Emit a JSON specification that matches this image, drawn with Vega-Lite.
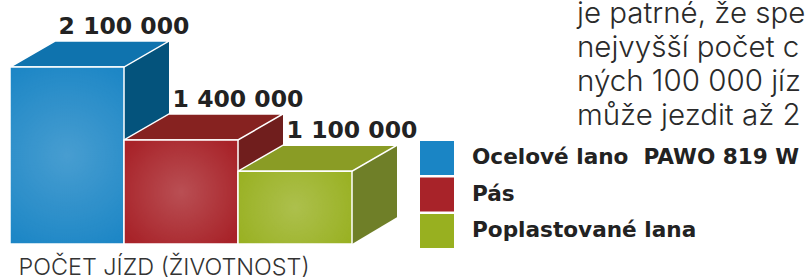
{
  "$schema": "https://vega.github.io/schema/vega-lite/v6.json",
  "width": 342,
  "height": 204,
  "autosize": {"type": "none"},
  "padding": {"left": 10, "top": 40, "right": 457, "bottom": 33},
  "background": "white",
  "config": {
    "view": {"stroke": null},
    "locale": {"number": {"decimal": ",", "thousands": " ", "grouping": [3], "currency": ["", " Kč"]}}
  },
  "title": {
    "text": ["je patrné, že spe", "nejvyšší počet c", "ných 100 000 jíz", "může jezdit až 2"],
    "orient": "top",
    "anchor": "start",
    "frame": "group",
    "dx": 567,
    "dy": 143,
    "baseline": "alphabetic",
    "font": "Inter",
    "fontWeight": 300,
    "fontSize": 29.5,
    "lineHeight": 34,
    "color": "#2a2a2a"
  },
  "data": {
    "values": [
      {"typ": "Ocelové lano\u00a0 PAWO 819 W", "jizdy": 2100000},
      {"typ": "Pás", "jizdy": 1400000},
      {"typ": "Poplastované lana", "jizdy": 1100000}
    ]
  },
  "encoding": {
    "x": {
      "field": "typ",
      "type": "nominal",
      "sort": null,
      "scale": {"paddingInner": 0, "paddingOuter": 0},
      "axis": {
        "title": "POČET JÍZD (ŽIVOTNOST)",
        "labels": false,
        "ticks": false,
        "domain": false,
        "grid": false,
        "titleFont": "Inter",
        "titleFontWeight": 300,
        "titleFontSize": 23.4,
        "titleColor": "#333333",
        "titleAnchor": "start",
        "titleAlign": "left",
        "titleX": 8,
        "titleBaseline": "alphabetic",
        "titlePadding": 30
      }
    }
  },
  "layer": [
    {
      "mark": {"type": "bar", "width": 45, "xOffset": 79.5, "yOffset": -26},
      "encoding": {
        "y": {"field": "jizdy", "type": "quantitative", "scale": {"domain": [400000, 2360000], "zero": false, "nice": false}, "axis": null},
        "y2": {"datum": 400000},
        "color": {"field": "typ", "type": "nominal", "sort": null, "scale": {"range": ["#04537c", "#701e1d", "#6f7f28"]}, "legend": null}
      }
    },
    {
      "mark": {"type": "point", "shape": "M57,0L104,0L104,-28Z", "size": 4, "filled": true, "opacity": 1, "fill": "white", "strokeWidth": 0},
      "encoding": {
        "y": {"datum": 400000, "type": "quantitative"}
      }
    },
    {
      "mark": {"type": "point", "shape": "M-57,0L57,0L102,-26L-12,-26Z", "size": 4, "filled": true, "opacity": 1, "stroke": "white", "strokeWidth": 1.5},
      "encoding": {
        "y": {"field": "jizdy", "type": "quantitative"},
        "color": {"field": "typ", "type": "nominal", "sort": null, "scale": {"range": ["#0f73ae", "#862220", "#8a9c25"]}, "legend": null}
      }
    },
    {
      "mark": {"type": "bar", "stroke": "white", "strokeWidth": 1.5},
      "encoding": {
        "y": {"field": "jizdy", "type": "quantitative"},
        "y2": {"datum": 400000},
        "color": {
          "field": "typ",
          "type": "nominal",
          "sort": null,
          "scale": {"range": ["#1a85c5", "#a82329", "#98b020"]},
          "legend": {
            "orient": "none",
            "legendX": 410,
            "legendY": 101,
            "title": null,
            "padding": 0,
            "symbolType": "square",
            "symbolSize": 1156,
            "symbolStrokeWidth": 0,
            "symbolOpacity": 1,
            "labelFont": "DejaVu Sans",
            "labelFontWeight": "bold",
            "labelFontSize": 21.6,
            "labelColor": "#222222",
            "labelOffset": 18,
            "labelLimit": 2000,
            "rowPadding": 2.5
          }
        }
      }
    },
    {
      "mark": {
        "type": "bar",
        "fill": {"gradient": "radial", "x1": 0.5, "y1": 0.5, "r1": 0, "x2": 0.5, "y2": 0.5, "r2": 0.6,
          "stops": [{"offset": 0, "color": "rgba(255,255,255,0.2)"}, {"offset": 1, "color": "rgba(255,255,255,0)"}]},
        "stroke": null
      },
      "encoding": {
        "y": {"field": "jizdy", "type": "quantitative"},
        "y2": {"datum": 400000}
      }
    },
    {
      "mark": {"type": "text", "dx": 57, "dy": -33, "align": "center", "baseline": "alphabetic", "font": "DejaVu Sans", "fontWeight": "bold", "fontSize": 23.5, "color": "#222222"},
      "encoding": {
        "y": {"field": "jizdy", "type": "quantitative"},
        "text": {"field": "jizdy", "type": "quantitative", "format": ",d"}
      }
    }
  ],
  "resolve": {"scale": {"color": "independent"}, "legend": {"color": "independent"}}
}
